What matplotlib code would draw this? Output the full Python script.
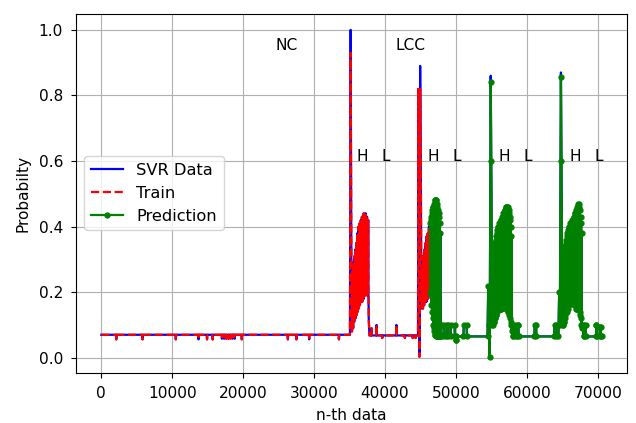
import numpy as np
import matplotlib.pyplot as plt

plt.rcParams['font.size'] = 11.1
plt.rcParams['xtick.major.pad'] = 5.5
plt.rcParams['ytick.major.pad'] = 6

# quiet stretches between events: first index, last index, resting level
flat_spans = [(0, 35000, 0.07), (37800, 44650, 0.068), (47900, 54450, 0.065),
              (58000, 64450, 0.065), (68000, 70600, 0.065)]

# short steps off the resting level: from, to, value
blips = [(2100, 2100, 0.056), (5800, 5800, 0.056), (10500, 10500, 0.056),
         (13700, 13700, 0.056), (14900, 14900, 0.056), (15700, 15700, 0.056),
         (17000, 17000, 0.058), (17300, 17300, 0.058), (17600, 17600, 0.058),
         (17900, 17900, 0.058), (18200, 18200, 0.058), (18500, 18500, 0.058),
         (18800, 18800, 0.058), (19800, 19800, 0.056), (26300, 26300, 0.056),
         (27500, 27500, 0.056), (29300, 29300, 0.056), (33500, 33500, 0.056),
         (38100, 38100, 0.09), (38800, 38800, 0.10), (39600, 39600, 0.06),
         (41600, 41600, 0.10), (42800, 42800, 0.06), (43900, 43900, 0.06),
         (44300, 44300, 0.06),
         (47950, 48300, 0.10), (48700, 48900, 0.10), (49300, 49800, 0.10),
         (49950, 49950, 0.055), (51100, 51500, 0.10),
         (58100, 58400, 0.10), (58700, 58800, 0.10), (61100, 61300, 0.10),
         (63900, 64100, 0.10),
         (68050, 68300, 0.10), (69800, 69800, 0.10), (70300, 70400, 0.095)]

# spike at the start of each event and the drop after it: index, value
spikes = [(35050, 0.07), (35100, 0.55), (35150, 1.00), (35200, 0.62), (35250, 0.30),
          (37700, 0.12),
          (44700, 0.82), (44800, 0.40), (44850, 0.003), (44900, 0.45), (44950, 0.89),
          (45050, 0.55), (45100, 0.30),
          (47850, 0.10),
          (54550, 0.22), (54650, 0.10), (54750, 0.003), (54900, 0.86), (54980, 0.60),
          (55050, 0.35),
          (57950, 0.10),
          (64550, 0.20), (64650, 0.10), (64800, 0.87), (64880, 0.60), (64950, 0.33),
          (67950, 0.10)]

# H phase of each event: first index, then upper / lower swings every `step` samples
step = 40
burst1_start = 35300
burst1_hi = [0.24, 0.26, 0.25, 0.29, 0.28, 0.31, 0.33, 0.32, 0.35, 0.34,
             0.38, 0.37, 0.40, 0.38, 0.41, 0.40, 0.42, 0.41, 0.43, 0.41,
             0.43, 0.44, 0.42, 0.44, 0.43, 0.44, 0.42, 0.43, 0.41, 0.42]
burst1_lo = [0.08, 0.10, 0.09, 0.12, 0.11, 0.13, 0.12, 0.14, 0.13, 0.15,
             0.14, 0.16, 0.15, 0.17, 0.16, 0.18, 0.17, 0.19, 0.17, 0.18,
             0.20, 0.18, 0.19, 0.21, 0.19, 0.20, 0.21, 0.19, 0.20, 0.21]
burst2_start = 45150
burst2_hi = [0.24, 0.28, 0.27, 0.31, 0.30, 0.33, 0.32, 0.35, 0.34, 0.37,
             0.36, 0.38, 0.37, 0.40, 0.39, 0.41, 0.42, 0.43, 0.44, 0.45,
             0.46, 0.46, 0.47, 0.48, 0.48, 0.48, 0.48, 0.47, 0.46, 0.45,
             0.44, 0.43, 0.41, 0.38]
burst2_lo = [0.15, 0.17, 0.15, 0.17, 0.16, 0.18, 0.17, 0.19, 0.17, 0.18,
             0.20, 0.18, 0.19, 0.21, 0.19, 0.20, 0.19, 0.16, 0.14, 0.12,
             0.10, 0.09, 0.08, 0.07, 0.07, 0.065, 0.065, 0.065, 0.065, 0.065,
             0.065, 0.065, 0.065, 0.07]
burst3_start = 55100
burst3_hi = [0.30, 0.31, 0.32, 0.33, 0.34, 0.35, 0.36, 0.37, 0.38, 0.39,
             0.40, 0.40, 0.41, 0.41, 0.41, 0.42, 0.42, 0.42, 0.43, 0.43,
             0.44, 0.44, 0.45, 0.45, 0.46, 0.46, 0.46, 0.46, 0.46, 0.45,
             0.44, 0.43, 0.42, 0.40, 0.37]
burst3_lo = [0.10, 0.10, 0.11, 0.11, 0.12, 0.12, 0.13, 0.13, 0.14, 0.15,
             0.15, 0.15, 0.15, 0.15, 0.15, 0.15, 0.15, 0.16, 0.16, 0.16,
             0.16, 0.16, 0.16, 0.16, 0.15, 0.15, 0.15, 0.15, 0.14, 0.14,
             0.13, 0.12, 0.11, 0.10, 0.08]
burst4_start = 65000
burst4_hi = [0.28, 0.29, 0.30, 0.31, 0.33, 0.34, 0.35, 0.36, 0.37, 0.38,
             0.39, 0.40, 0.40, 0.40, 0.41, 0.41, 0.41, 0.42, 0.42, 0.42,
             0.43, 0.43, 0.44, 0.44, 0.45, 0.45, 0.46, 0.46, 0.47, 0.47,
             0.46, 0.45, 0.43, 0.41, 0.38]
burst4_lo = [0.10, 0.10, 0.11, 0.11, 0.12, 0.13, 0.14, 0.14, 0.15, 0.15,
             0.16, 0.16, 0.17, 0.17, 0.17, 0.17, 0.17, 0.17, 0.17, 0.17,
             0.16, 0.16, 0.16, 0.16, 0.15, 0.15, 0.15, 0.15, 0.15, 0.15,
             0.14, 0.13, 0.12, 0.10, 0.09]

# fitted output tops out a little lower on the spikes
fit_tops = [(35150, 0.93), (44950, 0.82), (54900, 0.84), (64800, 0.855)]
split_at = 46350  # train / prediction boundary

event_labels = ['H', 'L', 'H', 'L', 'H', 'L', 'H', 'L']
event_label_x = [36000, 39500, 46000, 49500, 56000, 59500, 66000, 69500]


#%% BUILD SERIES
pts = []
for a, b, level in flat_spans:
    pts += [(a, level), (b, level)]
    for x0, x1, v in blips:
        if a < x0 and x1 < b:
            pts += [(x0 - 40, level), (x0, v), (x1, v), (x1 + 40, level)]
pts += spikes
for start, hi, lo in [(burst1_start, burst1_hi, burst1_lo), (burst2_start, burst2_hi, burst2_lo),
                      (burst3_start, burst3_hi, burst3_lo), (burst4_start, burst4_hi, burst4_lo)]:
    for k, (h, l) in enumerate(zip(hi, lo)):
        pts.append((start + 2 * k * step, h))
        pts.append((start + (2 * k + 1) * step, l))

pts.sort(key=lambda p: p[0])
x = np.array([p[0] for p in pts])
svr = np.array([p[1] for p in pts])

fit = svr.copy()
for xi, v in fit_tops:
    fit[x == xi] = v

train = x <= split_at
pred = x >= split_at


#%% PLOT
plt.figure(figsize=(6.36, 4.23), dpi=100)
plt.plot(x, svr, color='blue', lw=1.6, label='SVR Data')
plt.plot(x[train], fit[train], 'r--', lw=1.6, label='Train')
plt.plot(x[pred], fit[pred], 'g.-', lw=1.6, markersize=7, label='Prediction')

plt.text(24500, 0.94, 'NC')
plt.text(41500, 0.94, 'LCC')
for lab, xl in zip(event_labels, event_label_x):
    plt.text(xl, 0.6, lab)

plt.grid(True)
plt.legend(loc='center left', fontsize=11.7)
plt.xlabel('n-th data', labelpad=5)
plt.ylabel('Probabilty', labelpad=6)
plt.subplots_adjust(left=0.12, right=0.986, bottom=0.118, top=0.968)
plt.savefig('out.png', dpi=100)
